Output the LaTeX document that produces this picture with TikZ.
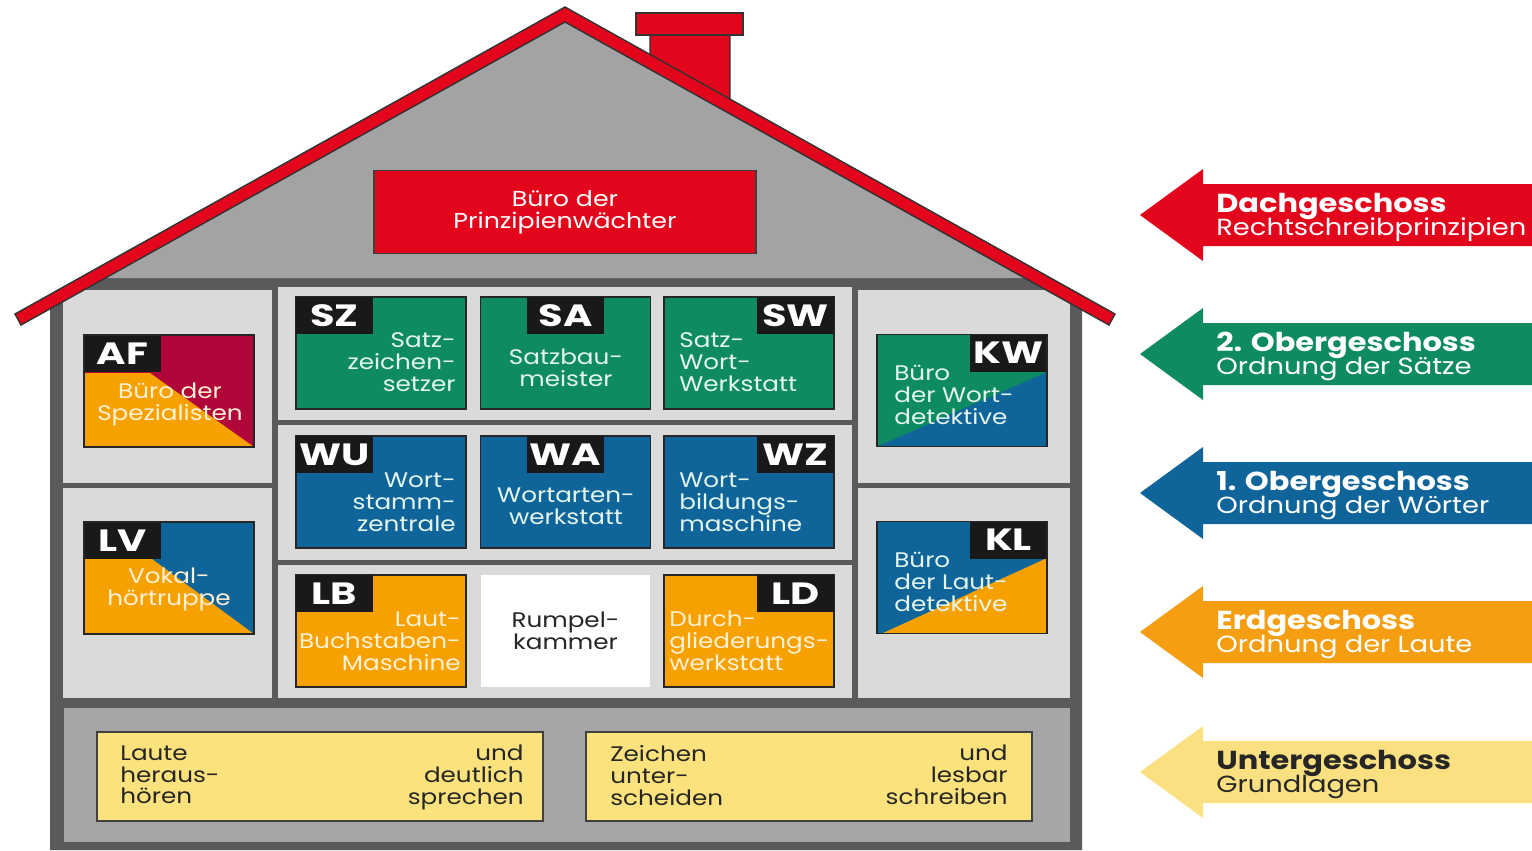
\documentclass[tikz,border=0pt]{standalone}
\usepackage{fontspec}
\setmainfont{Poppins}[FakeStretch=1.17]
\newfontfamily\tagfont{Poppins}[FakeStretch=1.3]
\usetikzlibrary{calc}

\definecolor{roofred}{HTML}{E3051B}
\definecolor{atticgray}{HTML}{A3A3A3}
\definecolor{wallgray}{HTML}{5A5A5C}
\definecolor{roomgray}{HTML}{DADADA}
\definecolor{cellargray}{HTML}{A6A6A6}
\definecolor{satzgreen}{HTML}{0E8B62}
\definecolor{wortblue}{HTML}{0F6599}
\definecolor{lautorange}{HTML}{F7A100}
\definecolor{afcrimson}{HTML}{B0063A}
\definecolor{grundyellow}{HTML}{FCE27C}
\definecolor{arrowyellow}{HTML}{FBE081}
\definecolor{arroworange}{HTML}{F59E12}
\definecolor{mint}{HTML}{E4F6EC}
\definecolor{cream}{HTML}{FFF1D6}

\tikzset{
  room/.style={minimum width=3.4cm, minimum height=2.24cm, inner sep=0pt, outer sep=0pt},
  roomline/.style={draw=black!85, line width=1.1pt},
  tag/.style={fill=black!90, text=white, font=\tagfont\bfseries\fontsize{17.5}{17.5}\selectfont,
    minimum width=1.54cm, minimum height=0.74cm, inner sep=0pt, outer sep=0pt},
  roomtxt/.style={text=mint, font=\fontsize{12}{12.5}\selectfont, inner sep=0pt},
  cellarbox/.style={fill=grundyellow, draw=black!75, line width=1pt,
    minimum width=8.92cm, minimum height=1.78cm},
  cellartxt/.style={text=black!85, font=\fontsize{12}{12.5}\selectfont, inner sep=0pt},
  floortitle/.style={anchor=base west, inner sep=0pt, font=\bfseries\fontsize{14.8}{14.8}\selectfont},
  floorsub/.style={anchor=base west, inner sep=0pt, font=\fontsize{13.3}{13.3}\selectfont}
}

\begin{document}
\begin{tikzpicture}[x=0.02cm, y=-0.02cm]
  \clip (0,0) rectangle (1532,850);
  \fill[white] (0,0) rectangle (1532,850);

  % house body and attic
  \fill[wallgray] (50,850) -- (50,294) -- (565,7) -- (1082,295) -- (1082,850) -- cycle;
  \fill[atticgray] (79,278) -- (565,7) -- (1051,278) -- cycle;

  % floors
  \fill[roomgray] (63,290) rectangle (272,483);
  \fill[roomgray] (63,488) rectangle (272,698);
  \fill[roomgray] (278,287) rectangle (852,420);
  \fill[roomgray] (278,425) rectangle (852,560);
  \fill[roomgray] (278,565) rectangle (852,698);
  \fill[roomgray] (858,290) rectangle (1070,483);
  \fill[roomgray] (858,488) rectangle (1070,698);
  \fill[cellargray] (64,708) rectangle (1070,842);

  % chimney and roof
  \filldraw[fill=roofred, draw=black!80, line width=0.8pt] (650,35) -- (730,35) -- (730,106) -- (650,62) -- cycle;
  \filldraw[fill=roofred, draw=black!80, line width=0.8pt] (636,13) rectangle (743,35);
  \filldraw[fill=roofred, draw=black!80, line width=0.8pt]
    (15,314) -- (565,7) -- (1115,314) -- (1109,325) -- (565,22) -- (21,325) -- cycle;

  \node[fill=roofred, draw=black!75, line width=1pt, minimum width=7.64cm, minimum height=1.66cm,
    align=center, text=white, font=\fontsize{12.3}{12.5}\selectfont] (prinz) at (565,212) {Büro der\\Prinzipienwächter};

  % 2. Obergeschoss
  \node[room, fill=satzgreen, roomline] (sz) at (381,353) {};
  \node[tag, anchor=north west] (sz-tag) at (sz.north west) {SZ};
  \node[roomtxt, align=right, anchor=east] (sz-txt) at (456,362) {Satz-\\zeichen-\\setzer};

  \node[room, fill=satzgreen, roomline] (sa) at (565.5,353) {};
  \node[tag, anchor=north] (sa-tag) at (sa.north) {SA};
  \node[roomtxt, align=center] (sa-txt) at (566,368) {Satzbau-\\meister};

  \node[room, fill=satzgreen, roomline] (sw) at (749,353) {};
  \node[tag, anchor=north east] (sw-tag) at (sw.north east) {SW};
  \node[roomtxt, align=left, anchor=west] (sw-txt) at (679,362) {Satz-\\Wort-\\Werkstatt};

  % 1. Obergeschoss
  \node[room, fill=wortblue, roomline] (wu) at (381,492) {};
  \node[tag, anchor=north west] (wu-tag) at (wu.north west) {WU};
  \node[roomtxt, align=right, anchor=east] (wu-txt) at (456,502) {Wort-\\stamm-\\zentrale};

  \node[room, fill=wortblue, roomline] (wa) at (565.5,492) {};
  \node[tag, anchor=north] (wa-tag) at (wa.north) {WA};
  \node[roomtxt, align=center] (wa-txt) at (566,506) {Wortarten-\\werkstatt};

  \node[room, fill=wortblue, roomline] (wz) at (749,492) {};
  \node[tag, anchor=north east] (wz-tag) at (wz.north east) {WZ};
  \node[roomtxt, align=left, anchor=west] (wz-txt) at (679,502) {Wort-\\bildungs-\\maschine};

  % Erdgeschoss
  \node[room, fill=lautorange, roomline] (lb) at (381,631) {};
  \node[tag, anchor=north west] (lb-tag) at (lb.north west) {LB};
  \node[roomtxt, text=cream, align=right, anchor=east] (lb-txt) at (461,641) {Laut-\\Buchstaben-\\Maschine};

  \node[room, fill=white, align=center, font=\fontsize{12}{12.5}\selectfont, text=black!85] (rumpel) at (565.5,631) {Rumpel-\\kammer};

  \node[room, fill=lautorange, roomline] (ld) at (749,631) {};
  \node[tag, anchor=north east] (ld-tag) at (ld.north east) {LD};
  \node[roomtxt, text=cream, align=left, anchor=west] (ld-txt) at (669,641) {Durch-\\gliederungs-\\werkstatt};

  % Bueros links
  \node[room, fill=afcrimson] (af) at (169,391) {};
  \fill[lautorange] (84,373) -- (150,373) -- (254,447) -- (84,447) -- cycle;
  \node[tag, anchor=north west] (af-tag) at (af.north west) {AF};
  \draw[roomline] (af.north west) rectangle (af.south east);
  \node[roomtxt, text=cream, align=center] (af-txt) at (170,404) {Büro der\\Spezialisten};

  \node[room, fill=wortblue] (lv) at (169,578) {};
  \fill[lautorange] (84,559) -- (152,559) -- (254,634) -- (84,634) -- cycle;
  \node[tag, anchor=north west] (lv-tag) at (lv.north west) {LV};
  \draw[roomline] (lv.north west) rectangle (lv.south east);
  \node[roomtxt, text=cream, align=center] (lv-txt) at (169,589) {Vokal-\\hörtruppe};

  % Bueros rechts
  \node[room, fill=wortblue] (kw) at (962,390.5) {};
  \fill[satzgreen] (kw.north west) -- (kw.north east) -- (1047,372) -- (kw.south west) -- cycle;
  \node[tag, anchor=north east] (kw-tag) at (kw.north east) {KW};
  \draw[roomline] (kw.north west) rectangle (kw.south east);
  \node[roomtxt, align=left, anchor=west] (kw-txt) at (894,395) {Büro\\der Wort-\\detektive};

  \node[room, fill=wortblue] (kl) at (962,577.5) {};
  \fill[lautorange] (882,633.5) -- (1047,558) -- (kl.south east) -- cycle;
  \node[tag, anchor=north east] (kl-tag) at (kl.north east) {KL};
  \draw[roomline] (kl.north west) rectangle (kl.south east);
  \node[roomtxt, align=left, anchor=west] (kl-txt) at (894,582) {Büro\\der Laut-\\detektive};

  % Untergeschoss
  \node[cellarbox] (hoeren) at (320,776.5) {};
  \node[cellartxt, align=left, anchor=north west] (hoeren-l) at (120,745) {Laute\\heraus-\\hören};
  \node[cellartxt, align=right, anchor=north east] (hoeren-r) at (524,745) {und\\deutlich\\sprechen};
  \node[cellarbox] (schreiben) at (809,776.5) {};
  \node[cellartxt, align=left, anchor=north west] (schreiben-l) at (610,745) {Zeichen\\unter-\\scheiden};
  \node[cellartxt, align=right, anchor=north east] (schreiben-r) at (1008,745) {und\\lesbar\\schreiben};

  % Pfeile
  \foreach \cy/\col/\txtcol/\head/\sub [count=\i] in {
      215/roofred/white/Dachgeschoss/Rechtschreibprinzipien,
      354/satzgreen/white/2. Obergeschoss/Ordnung der Sätze,
      493/wortblue/white/1. Obergeschoss/Ordnung der Wörter,
      632/arroworange/white/Erdgeschoss/Ordnung der Laute,
      772/arrowyellow/black!85/Untergeschoss/Grundlagen}
  {
    \fill[\col] (1140,\cy) -- (1203,\cy-46) -- (1203,\cy-31) -- (1540,\cy-31)
      -- (1540,\cy+31) -- (1203,\cy+31) -- (1203,\cy+46) -- cycle;
    \node[floortitle, text=\txtcol] (floor-\i-title) at (1216,\cy-3) {\head};
    \node[floorsub, text=\txtcol] (floor-\i-sub) at (1216,\cy+20) {\sub};
  }
\end{tikzpicture}
\end{document}
